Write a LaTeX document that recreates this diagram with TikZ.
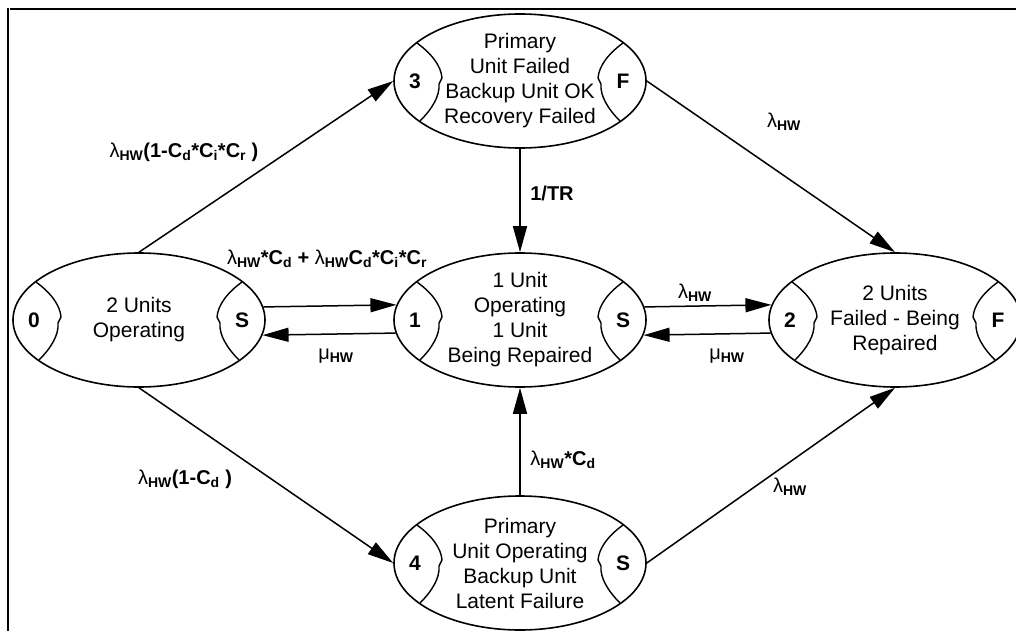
\documentclass[tikz,border=0pt]{standalone}
\usepackage{fontspec}
\setmainfont{Liberation Sans}
\usetikzlibrary{shapes.geometric, arrows.meta, calc}

\newcommand{\sub}[1]{\textsubscript{\textbf{#1}}}
\newcommand{\lam}{{\mdseries λ}}
\newcommand{\mue}{{\mdseries μ}}

\newcommand{\statenode}[5]{%
    \node (#1) at #2 [state_shape] {};
    \node (#1-text) at (#1.center) [state_text] {#5};
    \begin{scope}[shift={(#1.center)}]
        % Left compartment
        \draw[arc_style] (-103,-38) .. controls (-88,-27) and (-79,-15) .. (-78,-3)
            -- (-81,3) .. controls (-80,15) and (-88,28) .. (-100,40);
        % Right compartment
        \draw[arc_style] (103,-38) .. controls (88,-27) and (79,-15) .. (78,-3)
            -- (81,3) .. controls (80,15) and (88,28) .. (100,40);
    \end{scope}
    % Compartment tags
    \node (#1-tagL) at ($(#1.center)+(-105,0)$) [tag_style] {#3};
    \node (#1-tagR) at ($(#1.center)+(103,0)$) [tag_style] {#4};
}

\begin{document}
\begin{tikzpicture}[
        x=1pt, y=-1pt,
        state_shape/.style={ellipse, draw, line width=1.6pt, minimum width=252pt,
            minimum height=134pt, inner sep=0pt},
        state_text/.style={align=center, inner sep=0pt, font=\fontsize{21}{25}\selectfont},
        arc_style/.style={line width=1.4pt},
        tag_style/.style={inner sep=0pt, font=\bfseries\fontsize{21}{24}\selectfont},
        arrow_style/.style={-{Triangle[length=26pt, width=14pt]}, line width=1.5pt},
        rate_style/.style={inner sep=0pt, font=\bfseries\fontsize{20}{22}\selectfont}
    ]
    \useasboundingbox (0,0) rectangle (1016,631);

    % Frame (top and left edges only)
    \draw[line width=2.5pt] (10,9) -- (1016,9);
    \draw[line width=2.5pt] (8,8) -- (8,631);

    % =========================================================================
    % 1. STATES
    % =========================================================================
    \statenode{State0}{(139,320)}{0}{S}{2 Units\\Operating}
    \statenode{State1}{(520,320)}{1}{S}{1 Unit\\Operating\\1 Unit\\Being Repaired}
    \statenode{State2}{(895,320)}{2}{F}{2 Units\\Failed - Being\\Repaired}
    \statenode{State3}{(520,81)}{3}{F}{Primary\\Unit Failed\\Backup Unit OK\\Recovery Failed}
    \statenode{State4}{(520,563)}{4}{S}{Primary\\Unit Operating\\Backup Unit\\Latent Failure}

    % =========================================================================
    % 2. TRANSITIONS
    % =========================================================================
    \draw[arrow_style] (State0.north) -- (State3.west);
    \draw[arrow_style] (State0.south) -- (State4.west);
    \draw[arrow_style] (State0.6.5) -- (State1.173.5);
    \draw[arrow_style] (State1.186.5) -- (State0.353.5);
    \draw[arrow_style] (State1.6.5) -- (State2.173.5);
    \draw[arrow_style] (State2.186.5) -- (State1.353.5);
    \draw[arrow_style] (State3.south) -- (State1.north);
    \draw[arrow_style] (State4.north) -- (State1.south);
    \draw[arrow_style] (State3.east) -- (State2.north);
    \draw[arrow_style] (State4.east) -- (State2.south);

    % =========================================================================
    % 3. RATES
    % =========================================================================
    \node (Rate03) at (184,152) [rate_style] {\lam\sub{HW}(1-C\sub{d}*C\sub{i}*C\sub{r} )};
    \node (Rate04) at (185,479) [rate_style] {\lam\sub{HW}(1-C\sub{d} )};
    \node (Rate01) at (327,259) [rate_style] {\lam\sub{HW}*C\sub{d} + \lam\sub{HW}C\sub{d}*C\sub{i}*C\sub{r}};
    \node (Rate10) at (336,356) [rate_style] {\mue\sub{HW}};
    \node (Rate12) at (695,293) [rate_style] {\lam\sub{HW}};
    \node (Rate21) at (727,356) [rate_style] {\mue\sub{HW}};
    \node (Rate31) at (552,193) [rate_style] {1/TR};
    \node (Rate41) at (563,460) [rate_style] {\lam\sub{HW}*C\sub{d}};
    \node (Rate32) at (784,122) [rate_style] {\lam\sub{HW}};
    \node (Rate42) at (790,487) [rate_style] {\lam\sub{HW}};

\end{tikzpicture}
\end{document}
